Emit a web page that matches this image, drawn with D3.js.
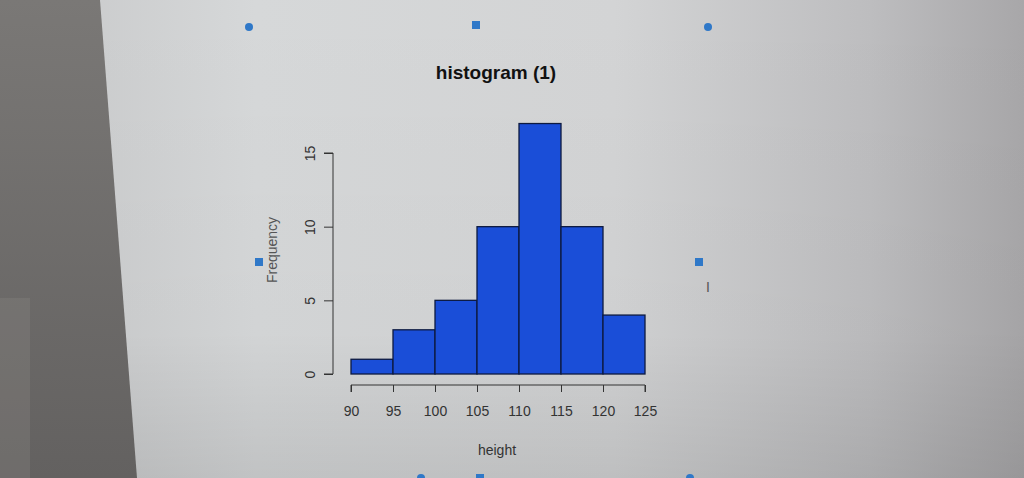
<!DOCTYPE html>
<html>
<head>
<meta charset="utf-8">
<script src="https://cdn.jsdelivr.net/npm/d3@7"></script>
<style>
  html, body { margin: 0; padding: 0; background: #cfd1d2; }
  svg { display: block; }
  text { font-family: "Liberation Sans", Arial, sans-serif; }
</style>
</head>
<body>
<svg id="chart" width="1024" height="478"></svg>
<script>
// ---- data ----
const binEdges = [90, 95, 100, 105, 110, 115, 120, 125];
const counts = [1, 3, 5, 10, 17, 10, 4];
const xTicks = [90, 95, 100, 105, 110, 115, 120, 125];
const yTicks = [0, 5, 10, 15];
const title = "histogram (1)";
const xLabel = "height";
const yLabel = "Frequency";

const svg = d3.select("#chart");
const defs = svg.append("defs");

// ---- photo-like background (screen + bezel) ----
const g1 = defs.append("linearGradient").attr("id", "scr").attr("x1", "0").attr("x2", "1").attr("y1", "0").attr("y2", "0");
g1.append("stop").attr("offset", "0").attr("stop-color", "#c6c7c8");
g1.append("stop").attr("offset", "0.25").attr("stop-color", "#d6d8d9");
g1.append("stop").attr("offset", "0.6").attr("stop-color", "#d3d4d5");
g1.append("stop").attr("offset", "0.85").attr("stop-color", "#bdbdbf");
g1.append("stop").attr("offset", "1").attr("stop-color", "#a8a7a9");
svg.append("rect").attr("width", 1024).attr("height", 478).attr("fill", "url(#scr)");

const g2 = defs.append("linearGradient").attr("id", "vshade").attr("x1", "0").attr("x2", "0").attr("y1", "0").attr("y2", "1");
g2.append("stop").attr("offset", "0").attr("stop-color", "#000").attr("stop-opacity", 0);
g2.append("stop").attr("offset", "0.7").attr("stop-color", "#000").attr("stop-opacity", 0.02);
g2.append("stop").attr("offset", "1").attr("stop-color", "#000").attr("stop-opacity", 0.1);
svg.append("rect").attr("width", 1024).attr("height", 478).attr("fill", "url(#vshade)");

const g3 = defs.append("linearGradient").attr("id", "bez").attr("x1", "0").attr("x2", "0").attr("y1", "0").attr("y2", "1");
g3.append("stop").attr("offset", "0").attr("stop-color", "#7a7876");
g3.append("stop").attr("offset", "1").attr("stop-color", "#636160");
svg.append("path").attr("d", "M0,0 L100,0 L137,478 L0,478 Z").attr("fill", "url(#bez)");
svg.append("rect").attr("x", 0).attr("y", 298).attr("width", 30).attr("height", 180).attr("fill", "#8a8886").attr("opacity", 0.3);

// selection handles
const handles = [[249, 27, "c"], [476, 25, "s"], [708, 27, "c"], [259, 262, "s"], [699, 262, "s"], [421, 478, "c"], [480, 478, "s"], [690, 478, "c"]];
handles.forEach(([hx, hy, t]) => {
  if (t === "c") svg.append("circle").attr("cx", hx).attr("cy", hy).attr("r", 4).attr("fill", "#2f78c8");
  else svg.append("rect").attr("x", hx - 4).attr("y", hy - 4).attr("width", 8).attr("height", 8).attr("fill", "#2f78c8");
});
svg.append("text").attr("x", 708).attr("y", 292).attr("text-anchor", "middle").attr("font-size", 14)
  .attr("font-family", "Liberation Serif, serif").attr("fill", "#555").text("I");

// ---- scales ----
const x = d3.scaleLinear().domain([90, 125]).range([351, 645]);
const y = d3.scaleLinear().domain([0, 15]).range([374, 153]);

// bars
const bins = counts.map((c, i) => ({ x0: binEdges[i], x1: binEdges[i + 1], c }));
svg.append("g").selectAll("rect").data(bins).join("rect")
  .attr("x", d => x(d.x0))
  .attr("y", d => y(d.c))
  .attr("width", d => x(d.x1) - x(d.x0))
  .attr("height", d => y(0) - y(d.c))
  .attr("fill", "#1a4ed8")
  .attr("stroke", "#0d1a40")
  .attr("stroke-width", 1.3);

// x axis (R style: ticks downward, offset below bars)
const xAxis = d3.axisBottom(x).tickValues(xTicks).tickSize(7).tickPadding(14).tickFormat(d3.format("d"));
const gx = svg.append("g").attr("transform", "translate(0,385)").call(xAxis);
gx.select(".domain").attr("d", `M${x(90)},7V0H${x(125)}V7`).attr("stroke", "#333");
gx.selectAll(".tick line").attr("stroke", "#333");
gx.selectAll(".tick text").attr("font-size", 14).attr("fill", "#333").attr("font-family", "Liberation Sans, Arial, sans-serif");

// y axis
const yAxis = d3.axisLeft(y).tickValues(yTicks).tickSize(9).tickPadding(6).tickFormat(d3.format("d"));
const gy = svg.append("g").attr("transform", "translate(333,0)").call(yAxis);
gy.select(".domain").attr("d", `M-9,${y(0)}H0V${y(15)}H-9`).attr("stroke", "#333");
gy.selectAll(".tick line").attr("stroke", "#333");
gy.selectAll(".tick text")
  .attr("font-size", 14).attr("fill", "#333").attr("font-family", "Liberation Sans, Arial, sans-serif")
  .attr("text-anchor", "middle").attr("x", null)
  .attr("transform", "translate(-23,0) rotate(-90)")
  .attr("dy", "0.35em");

// titles
svg.append("text").attr("x", 496).attr("y", 79).attr("text-anchor", "middle")
  .attr("font-size", 19).attr("font-weight", "bold").attr("fill", "#111").text(title);
svg.append("text").attr("x", 497).attr("y", 455).attr("text-anchor", "middle")
  .attr("font-size", 14).attr("fill", "#333").text(xLabel);
svg.append("text").attr("transform", "translate(277,250) rotate(-90)").attr("text-anchor", "middle")
  .attr("font-size", 14).attr("fill", "#555").text(yLabel);
</script>
</body>
</html>
